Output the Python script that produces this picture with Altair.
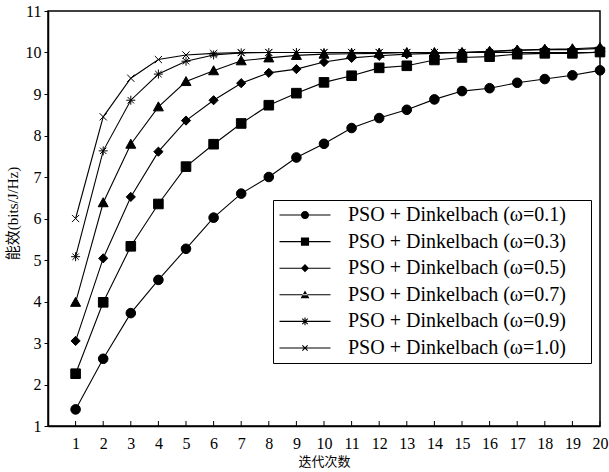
import math
import altair as alt
import pandas as pd

iterations = list(range(1, 21))
series_names = [
    "PSO + Dinkelbach (ω=0.1)",
    "PSO + Dinkelbach (ω=0.3)",
    "PSO + Dinkelbach (ω=0.5)",
    "PSO + Dinkelbach (ω=0.7)",
    "PSO + Dinkelbach (ω=0.9)",
    "PSO + Dinkelbach (ω=1.0)",
]
w01 = [1.40, 2.62, 3.72, 4.52, 5.27, 6.02, 6.60, 7.00, 7.47, 7.80, 8.18, 8.42, 8.62, 8.87, 9.07, 9.14, 9.27, 9.36, 9.45, 9.57]
w03 = [2.26, 3.98, 5.33, 6.35, 7.25, 7.79, 8.29, 8.73, 9.02, 9.28, 9.44, 9.63, 9.68, 9.82, 9.88, 9.90, 9.96, 9.98, 9.98, 10.01]
w05 = [3.05, 5.04, 6.52, 7.61, 8.36, 8.85, 9.26, 9.51, 9.60, 9.77, 9.87, 9.92, 9.96, 9.98, 10.00, 10.02, 10.05, 10.07, 10.07, 10.10]
w07 = [3.98, 6.38, 7.79, 8.69, 9.30, 9.56, 9.80, 9.87, 9.93, 9.96, 9.97, 9.98, 10.00, 10.00, 10.00, 10.03, 10.06, 10.08, 10.09, 10.12]
w09 = [5.08, 7.63, 8.85, 9.48, 9.79, 9.94, 9.99, 10.00, 10.00, 10.00, 10.00, 10.00, 10.00, 10.00, 10.00, 10.00, 10.00, 10.00, 10.00, 10.00]
w10 = [6.00, 8.45, 9.38, 9.83, 9.94, 9.98, 10.00, 10.00, 10.00, 10.00, 10.00, 10.00, 10.00, 10.00, 10.00, 10.00, 10.00, 10.00, 10.00, 10.00]
all_series = [w01, w03, w05, w07, w09, w10]
y_ticks = list(range(1, 12))
x_ticks = list(range(1, 21))

rows = []
for name, vals in zip(series_names, all_series):
    for it, v in zip(iterations, vals):
        rows.append({"iter": it, "ee": v, "series": name})
df = pd.DataFrame(rows)
tick_df = pd.DataFrame({"iter": x_ticks})


def f(v):
    return f"{v:.3f}".rstrip("0").rstrip(".")


def marker_paths(u, k=1.0):
    """stroked marker outlines in px (scaled by k), in symbol units of u px"""
    def s(p):
        return f(p * k / u)
    r = 4.8
    circ = f"M{s(-r)},0A{s(r)},{s(r)} 0 1,1 {s(r)},0A{s(r)},{s(r)} 0 1,1 {s(-r)},0Z"
    h = 4.8
    sq = f"M{s(-h)},{s(-h)}L{s(h)},{s(-h)}L{s(h)},{s(h)}L{s(-h)},{s(h)}Z"
    d = 4.6
    dia = f"M{s(-d)},0L0,{s(-d)}L{s(d)},0L0,{s(d)}Z"
    tri = f"M{s(-5)},{s(4)}L{s(5)},{s(4)}L0,{s(-5)}Z"
    a, b = 4.5, 3.2
    star = (f"M{s(-a)},0L{s(a)},0M0,{s(-a)}L0,{s(a)}"
            f"M{s(-b)},{s(-b)}L{s(b)},{s(b)}M{s(-b)},{s(b)}L{s(b)},{s(-b)}")
    c = 3.6
    cross = f"M{s(-c)},{s(-c)}L{s(c)},{s(c)}M{s(-c)},{s(c)}L{s(c)},{s(-c)}"
    return [circ, sq, dia, tri, star, cross]


def bar(angle_deg, half_len, half_w, u):
    """filled thin bar (px) through the origin, in symbol units of u px"""
    t = math.radians(angle_deg)
    ca, sa = math.cos(t), math.sin(t)
    pts = [(-half_len, -half_w), (half_len, -half_w), (half_len, half_w), (-half_len, half_w)]
    out = []
    for i, (px, py) in enumerate(pts):
        x = (px * ca - py * sa) / u
        y = (px * sa + py * ca) / u
        out.append(("M" if i == 0 else "L") + f"{f(x)},{f(y)}")
    return "".join(out) + "Z"


def legend_paths(u, k):
    """fill-only legend glyphs: a horizontal line with the marker on it"""
    def s(p):
        return f(p * k / u)
    line = bar(0, 25.5, 0.55, u)
    r = 4.8
    circ = f"M{s(-r)},0A{s(r)},{s(r)} 0 1,1 {s(r)},0A{s(r)},{s(r)} 0 1,1 {s(-r)},0Z"
    h = 4.8
    sq = f"M{s(-h)},{s(-h)}L{s(h)},{s(-h)}L{s(h)},{s(h)}L{s(-h)},{s(h)}Z"
    d = 4.8
    dia = f"M{s(-d)},0L0,{s(-d)}L{s(d)},0L0,{s(d)}Z"
    tri = f"M{s(-5.2)},{s(4.2)}L{s(5.2)},{s(4.2)}L0,{s(-5.2)}Z"
    star = "".join(bar(a, 4.5 * k, 0.55, u) for a in (0, 90, 45, 135))
    cross = "".join(bar(a, 4.4 * k, 0.55, u) for a in (45, 135))
    return [line + p for p in (circ, sq, dia, tri, star, cross)]


DATA_SIZE = 100      # 5 px per unit
LEG_SIZE = 289       # 8.5 px per unit
data_shapes = marker_paths(5.0)
legend_shapes = legend_paths(8.5, 0.85)

W, H = 552, 415
xscale = alt.Scale(domain=[0, 20], nice=False, zero=False)
yscale = alt.Scale(domain=[1, 11], nice=False, zero=False)

SERIF = "Liberation Serif, Noto Sans CJK SC"

xaxis = alt.Axis(values=x_ticks, format="d", ticks=False, tickSize=0,
                 labelPadding=9, title="迭代次数", titlePadding=4,
                 titleFontSize=13, grid=False, labelFlush=False,
                 labelOverlap=False, labelBound=False, labelSeparation=0)
yaxis = alt.Axis(values=y_ticks, format="d", tickSize=4, labelPadding=3,
                 title="能效(bits/J/Hz)", titlePadding=5, titleFontSize=15,
                 titleY=202, grid=False, labelOverlap=False)
xenc = alt.X("iter:Q", scale=xscale, axis=xaxis)
yenc = alt.Y("ee:Q", scale=yscale, axis=yaxis)

base = alt.Chart(df)
lines = base.mark_line(color="black", strokeWidth=1.1).encode(
    x=xenc, y=yenc, detail="series:N")
points = base.mark_point(filled=True, opacity=1, size=DATA_SIZE, strokeWidth=1).encode(
    x=xenc, y=yenc,
    fill=alt.value("black"), stroke=alt.value("black"),
    shape=alt.Shape("series:N", scale=alt.Scale(domain=series_names, range=data_shapes),
                    legend=None))
legend_layer = base.transform_filter("false").mark_point(
    filled=True, opacity=1).encode(
    x=xenc, y=yenc,
    fill=alt.value("black"), size=alt.value(LEG_SIZE),
    shape=alt.Shape("series:N", scale=alt.Scale(domain=series_names, range=legend_shapes),
                    legend=alt.Legend(title="\u00a0", titleOrient="right", titlePadding=20,
                                      titleFontSize=10,
                                      orient="none", legendX=225, legendY=189,
                                      labelFont="Liberation Serif", labelFontSize=20,
                                      labelColor="black", labelOffset=33, symbolOffset=17,
                                      symbolSize=LEG_SIZE,
                                      rowPadding=6.6, padding=5, strokeColor="black",
                                      fillColor="white", symbolFillColor="black",
                                      labelLimit=400)))
ticks = alt.Chart(tick_df).mark_rule(color="black", strokeWidth=1).encode(
    x=xenc, y=alt.value(H), y2=alt.value(H - 5))

chart = alt.layer(lines, ticks, points, legend_layer).resolve_scale(
    shape="independent").properties(
    width=W, height=H,
    autosize=alt.AutoSizeParams(type="none"),
    padding={"left": 48, "top": 11, "right": 9, "bottom": 46},
    background="white",
).configure_view(stroke="black", strokeWidth=1.5).configure_axis(
    domainColor="black", domainWidth=1.5, tickColor="black", tickWidth=1,
    labelFont="Liberation Serif", labelFontSize=16, labelColor="black",
    titleFont=SERIF, titleFontWeight="normal", titleColor="black",
)

chart.save("out.html", embed_options={"renderer": "svg", "actions": False})
